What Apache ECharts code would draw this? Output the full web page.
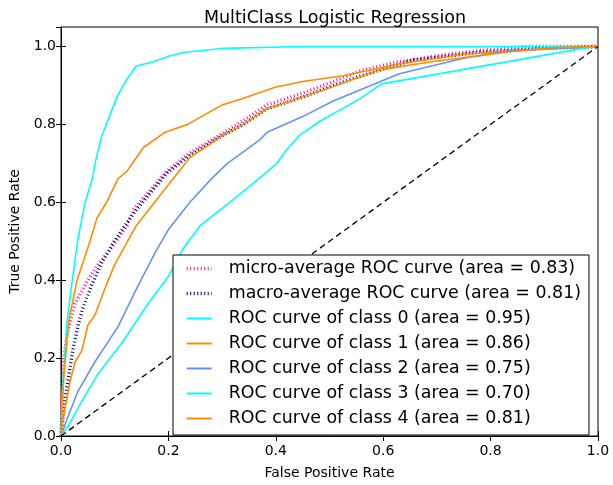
<!DOCTYPE html>
<html>
<head>
<meta charset="utf-8">
<script src="https://cdn.jsdelivr.net/npm/echarts@6/dist/echarts.min.js"></script>
<style>
    html, body {margin: 0; padding: 0; background: #fff;}
    #chart {width: 613px; height: 485px;}
</style>
</head>
<body>
<div id="chart"></div>
<script>
// curve names (legend)
const curveNames = [
    'micro-average ROC curve (area = 0.83)',
    'macro-average ROC curve (area = 0.81)',
    'ROC curve of class 0 (area = 0.95)',
    'ROC curve of class 1 (area = 0.86)',
    'ROC curve of class 2 (area = 0.75)',
    'ROC curve of class 3 (area = 0.70)',
    'ROC curve of class 4 (area = 0.81)',
];
const curveColors = ['#ff1493', '#000080', '#00ffff', '#ff8c00', '#6495ed', '#00ffff', '#ff8c00'];

// [fpr, tpr]
const microRoc = [[0, 0], [0.002, 0.1], [0.004, 0.18], [0.011, 0.26], [0.026, 0.34], [0.05, 0.40],
    [0.069, 0.44], [0.087, 0.47], [0.123, 0.54], [0.134, 0.58], [0.197, 0.68], [0.24, 0.727],
    [0.296, 0.773], [0.34, 0.81], [0.383, 0.85], [0.45, 0.88], [0.507, 0.91], [0.557, 0.937],
    [0.625, 0.96], [0.72, 0.98], [0.78, 0.99], [0.87, 1.0], [1, 1]];
const macroRoc = [[0, 0], [0.007, 0.09], [0.022, 0.22], [0.032, 0.285], [0.041, 0.33], [0.058, 0.39],
    [0.076, 0.445], [0.097, 0.495], [0.119, 0.54], [0.14, 0.58], [0.197, 0.675], [0.24, 0.72],
    [0.296, 0.768], [0.34, 0.80], [0.383, 0.84], [0.45, 0.87], [0.507, 0.90], [0.56, 0.925],
    [0.655, 0.965], [0.78, 0.985], [0.9, 0.995], [1, 1]];
const class0Roc = [[0, 0], [0.002, 0.11], [0.011, 0.29], [0.02, 0.39], [0.032, 0.51], [0.045, 0.6],
    [0.058, 0.66], [0.065, 0.71], [0.076, 0.77], [0.09, 0.82], [0.104, 0.87], [0.12, 0.91],
    [0.14, 0.95], [0.17, 0.96], [0.2, 0.975], [0.23, 0.985], [0.30, 0.995], [0.45, 1.0], [1, 1]];
const class1Roc = [[0, 0], [0.005, 0.15], [0.015, 0.3], [0.03, 0.4], [0.054, 0.5], [0.067, 0.56],
    [0.085, 0.6], [0.106, 0.66], [0.123, 0.68], [0.153, 0.74], [0.194, 0.78], [0.236, 0.80],
    [0.3, 0.85], [0.337, 0.866], [0.4, 0.896], [0.45, 0.91], [0.525, 0.925], [0.63, 0.955],
    [0.75, 0.98], [0.85, 0.99], [1, 1]];
const class2Roc = [[0, 0], [0.013, 0.05], [0.032, 0.116], [0.063, 0.19], [0.106, 0.28], [0.145, 0.39],
    [0.175, 0.47], [0.2, 0.53], [0.24, 0.6], [0.28, 0.66], [0.31, 0.7], [0.37, 0.76],
    [0.384, 0.78], [0.45, 0.82], [0.507, 0.86], [0.56, 0.89], [0.63, 0.93], [0.75, 0.97],
    [0.84, 0.99], [1, 1]];
const class3Roc = [[0, 0], [0.013, 0.025], [0.039, 0.09], [0.069, 0.16], [0.114, 0.24], [0.157, 0.33],
    [0.2, 0.41], [0.227, 0.48], [0.259, 0.54], [0.32, 0.606], [0.365, 0.657], [0.402, 0.7],
    [0.42, 0.735], [0.445, 0.773], [0.482, 0.808], [0.525, 0.841], [0.557, 0.866], [0.597, 0.904],
    [0.98, 0.997], [1, 1]];
const class4Roc = [[0, 0], [0.002, 0.03], [0.017, 0.14], [0.026, 0.19], [0.039, 0.22], [0.05, 0.285],
    [0.063, 0.31], [0.085, 0.39], [0.1, 0.44], [0.14, 0.54], [0.197, 0.64], [0.24, 0.715],
    [0.3, 0.77], [0.34, 0.80], [0.383, 0.84], [0.45, 0.87], [0.507, 0.897], [0.594, 0.94],
    [0.687, 0.96], [0.84, 0.987], [0.916, 0.997], [1, 1]];
const chanceLine = [[0, 0], [1, 1]];

const curveData = [microRoc, macroRoc, class0Roc, class1Roc, class2Roc, class3Roc, class4Roc];

const fontFamily = 'DejaVu Sans';

// dotted average curves, solid class curves
const isDotted = i => i < 2;

const makeCurve = (i) => ({
    name: curveNames[i],
    type: 'line',
    data: curveData[i],
    showSymbol: false,
    symbol: 'none',
    clip: true,
    color: curveColors[i],
    lineStyle: isDotted(i)
        ? {color: curveColors[i], width: 3.4, type: [1, 2.5]}
        : {color: curveColors[i], width: 1.6},
    z: 2,
});

const tickFmt = v => (v > 1.001 ? '' : v.toFixed(1));

const chart = echarts.init(document.getElementById('chart'));
chart.setOption({
    animation: false,
    backgroundColor: '#fff',
    title: {
        text: 'MultiClass Logistic Regression',
        left: 330,
        textAlign: 'center',
        top: 4,
        textStyle: {fontFamily, fontSize: 17.5, fontWeight: 'normal', color: '#000'},
    },
    grid: {
        left: 61, right: 15, top: 27, bottom: 42,
        show: true, borderColor: '#000', borderWidth: 1, backgroundColor: 'transparent',
    },
    legend: {
        show: true,
        data: curveNames.map((name, i) => (isDotted(i)
            ? {name, lineStyle: {width: 3.4, type: [1, 2.5], color: curveColors[i]}}
            : {name})),
        orient: 'vertical',
        left: 173,
        top: 255,
        padding: [5, 8, 8, 12],
        itemGap: 8,
        itemWidth: 25,
        itemHeight: 17,
        backgroundColor: '#fff',
        borderColor: '#000',
        borderWidth: 1,
        borderRadius: 0,
        z: 10,
        itemStyle: {opacity: 0},
        textStyle: {fontFamily, fontSize: 17.4, color: '#000', padding: [0, 0, 0, 12]},
    },
    xAxis: [
        {
            type: 'value', min: 0, max: 1, interval: 0.2,
            name: 'False Positive Rate', nameLocation: 'middle', nameGap: 30,
            nameTextStyle: {fontFamily, fontSize: 14, color: '#000'},
            axisLine: {show: true, lineStyle: {color: '#000'}},
            axisTick: {show: true, inside: true, length: 5, lineStyle: {color: '#000'}},
            axisLabel: {fontFamily, fontSize: 14, color: '#000', margin: 8, formatter: tickFmt},
            splitLine: {show: false},
        },
        {
            type: 'value', min: 0, max: 1, interval: 0.2, position: 'top',
            axisLine: {show: true, lineStyle: {color: '#000'}},
            axisTick: {show: true, inside: true, length: 5, lineStyle: {color: '#000'}},
            axisLabel: {show: false},
            splitLine: {show: false},
        },
    ],
    yAxis: [
        {
            type: 'value', min: 0, max: 1.05, interval: 0.2,
            name: 'True Positive Rate', nameLocation: 'middle', nameGap: 37,
            nameTextStyle: {fontFamily, fontSize: 14, color: '#000'},
            axisLine: {show: true, lineStyle: {color: '#000'}},
            axisTick: {show: true, inside: true, length: 5, lineStyle: {color: '#000'}},
            axisLabel: {fontFamily, fontSize: 14, color: '#000', margin: 5, showMaxLabel: false, formatter: tickFmt},
            splitLine: {show: false},
        },
        {
            type: 'value', min: 0, max: 1.05, interval: 0.2, position: 'right',
            axisLine: {show: true, lineStyle: {color: '#000'}},
            axisTick: {show: true, inside: true, length: 5, lineStyle: {color: '#000'}},
            axisLabel: {show: false},
            splitLine: {show: false},
        },
    ],
    series: [
        ...curveData.map((d, i) => makeCurve(i)),
        {
            name: 'chance',
            type: 'line',
            data: chanceLine,
            showSymbol: false,
            symbol: 'none',
            lineStyle: {color: '#000', width: 1.3, type: [6, 4]},
            z: 3,
        },
    ],
});
</script>
</body>
</html>
